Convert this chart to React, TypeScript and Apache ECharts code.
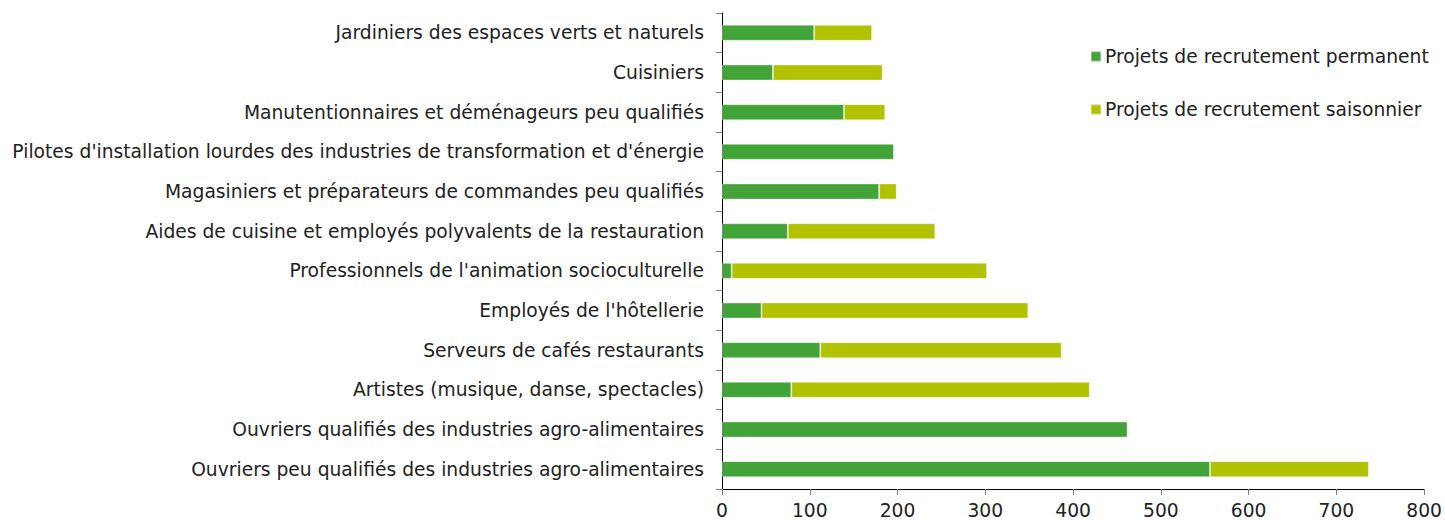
import React, { useEffect, useRef } from "react";
import * as echarts from "echarts";

const categories = [
  "Jardiniers des espaces verts et naturels",
  "Cuisiniers",
  "Manutentionnaires et déménageurs peu qualifiés",
  "Pilotes d'installation lourdes des industries de transformation et d'énergie",
  "Magasiniers et préparateurs de commandes peu qualifiés",
  "Aides de cuisine et employés polyvalents de la restauration",
  "Professionnels de l'animation socioculturelle",
  "Employés de l'hôtellerie",
  "Serveurs de cafés restaurants",
  "Artistes (musique, danse, spectacles)",
  "Ouvriers qualifiés des industries agro-alimentaires",
  "Ouvriers peu qualifiés des industries agro-alimentaires",
];

const permanent = [105, 58, 139, 196, 179, 75, 11, 45, 112, 79, 462, 556];
const seasonal = [66, 125, 47, 0, 20, 168, 291, 304, 275, 340, 0, 181];

const seriesNames = [
  "Projets de recrutement permanent",
  "Projets de recrutement saisonnier",
];

const xTicks = { min: 0, max: 800, interval: 100 };

export default function App() {
  const ref = useRef<HTMLDivElement>(null);
  useEffect(() => {
    if (!ref.current) return;
    const chart = echarts.init(ref.current, undefined, { renderer: "svg" });
    const font = "Verdana, 'DejaVu Sans', sans-serif";
    const fs = 18.7;
    chart.setOption({
      animation: false,
      textStyle: { fontFamily: font },
      grid: { left: 722, right: 20, top: 13, bottom: 31, containLabel: false },
      legend: {
        orient: "vertical",
        left: 1085,
        top: 42,
        itemWidth: 10,
        itemHeight: 10,
        itemGap: 34,
        icon: "rect",
        textStyle: { fontSize: fs, color: "#222", fontFamily: font, padding: [0, 0, 0, -1] },
        data: seriesNames,
      },
      xAxis: {
        type: "value",
        min: xTicks.min,
        max: xTicks.max,
        interval: xTicks.interval,
        axisLine: { show: true, lineStyle: { color: "#000", width: 1 } },
        axisTick: { show: true, length: 6, lineStyle: { color: "#808080" } },
        splitLine: { show: false },
        axisLabel: { fontSize: fs, color: "#222", margin: 12, fontFamily: font },
      },
      yAxis: {
        type: "category",
        inverse: true,
        data: categories,
        axisLine: { show: true, lineStyle: { color: "#000", width: 1 } },
        axisTick: { show: true, length: 6, lineStyle: { color: "#808080" } },
        axisLabel: { fontSize: fs, color: "#222", margin: 18, fontFamily: font },
      },
      series: [
        {
          name: seriesNames[0],
          type: "bar",
          stack: "total",
          data: permanent,
          barWidth: 16,
          itemStyle: { color: "#42a339", borderColor: "rgba(255,255,255,0.35)", borderWidth: 1 },
        },
        {
          name: seriesNames[1],
          type: "bar",
          stack: "total",
          data: seasonal,
          barWidth: 16,
          itemStyle: { color: "#b0c200", borderColor: "rgba(255,255,255,0.35)", borderWidth: 1 },
        },
      ],
    });
    return () => chart.dispose();
  }, []);
  return <div ref={ref} style={{ width: 1445, height: 520, position: "absolute", left: 0, top: 0 }} />;
}
